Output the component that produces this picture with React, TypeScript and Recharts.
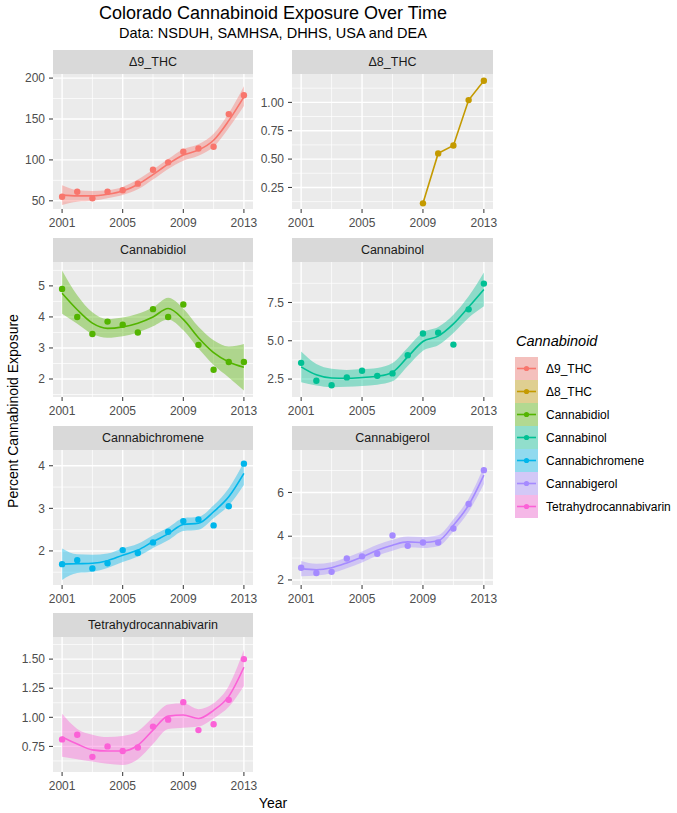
import React from "react";
import { ComposedChart, Line, Area, XAxis, YAxis, CartesianGrid } from "recharts";

const years = [2001, 2002, 2003, 2004, 2005, 2006, 2007, 2008, 2009, 2010, 2011, 2012, 2013];
const xTicks = [2001, 2005, 2009, 2013];
const xMinor = [2003, 2007, 2011];

// points, loess fit and band edges
const thc9Pts = [55, 61, 53, 61, 63, 71, 88, 97, 110, 114, 116, 156, 179];
const thc9Fit = [57, 56, 56, 58, 62, 70, 82, 95, 106, 112, 124, 148, 177];
const thc9Lo = [45, 49, 50, 53, 57, 64, 76, 89, 99, 105, 116, 139, 166];
const thc9Hi = [69, 63, 62, 63, 67, 76, 88, 101, 113, 119, 132, 157, 190];

const thc8Pts = [null, null, null, null, null, null, null, null, 0.11, 0.55, 0.62, 1.02, 1.19];

const cbdPts = [4.9, 4.0, 3.45, 3.85, 3.75, 3.5, 4.25, 4.0, 4.4, 3.1, 2.3, 2.55, 2.55];
const cbdFit = [4.76, 4.23, 3.8, 3.63, 3.68, 3.8, 4.0, 4.27, 3.92, 3.33, 2.85, 2.55, 2.38];
const cbdLo = [4.1, 3.78, 3.45, 3.33, 3.38, 3.5, 3.7, 3.92, 3.57, 2.98, 2.45, 2.05, 1.63];
const cbdHi = [5.5, 4.7, 4.15, 3.93, 3.98, 4.1, 4.3, 4.62, 4.27, 3.68, 3.25, 3.05, 3.13];

const cbnPts = [3.56, 2.39, 2.1, 2.61, 3.04, 2.71, 2.87, 4.06, 5.47, 5.53, 4.75, 7.05, 8.73];
const cbnFit = [3.3, 2.78, 2.57, 2.55, 2.6, 2.68, 2.95, 3.95, 4.95, 5.3, 6.1, 7.2, 8.35];
const cbnLo = [2.3, 2.08, 1.97, 2.0, 2.05, 2.13, 2.35, 3.35, 4.35, 4.7, 5.5, 6.5, 7.25];
const cbnHi = [4.3, 3.48, 3.17, 3.1, 3.15, 3.23, 3.55, 4.55, 5.55, 5.9, 6.7, 7.9, 9.45];

const cbcPts = [1.69, 1.78, 1.59, 1.71, 2.02, 1.95, 2.2, 2.45, 2.7, 2.74, 2.6, 3.05, 4.05];
const cbcFit = [1.69, 1.7, 1.71, 1.77, 1.9, 2.02, 2.22, 2.4, 2.62, 2.65, 2.92, 3.27, 3.82];
const cbcLo = [1.32, 1.48, 1.51, 1.6, 1.74, 1.87, 2.07, 2.25, 2.47, 2.5, 2.77, 3.07, 3.55];
const cbcHi = [2.06, 1.92, 1.91, 1.94, 2.06, 2.17, 2.37, 2.55, 2.77, 2.8, 3.07, 3.47, 4.09];

const cbgPts = [2.56, 2.32, 2.37, 2.98, 3.08, 3.2, 4.03, 3.56, 3.71, 3.71, 4.35, 5.47, 7.02];
const cbgFit = [2.52, 2.47, 2.56, 2.78, 3.05, 3.36, 3.59, 3.74, 3.71, 3.79, 4.5, 5.42, 6.79];
const cbgLo = [2.17, 2.2, 2.31, 2.53, 2.8, 3.11, 3.34, 3.49, 3.46, 3.54, 4.23, 5.12, 6.39];
const cbgHi = [2.87, 2.74, 2.81, 3.03, 3.3, 3.61, 3.84, 3.99, 3.96, 4.04, 4.77, 5.72, 7.19];

const thcvPts = [0.81, 0.85, 0.66, 0.75, 0.71, 0.74, 0.92, 0.98, 1.13, 0.89, 0.94, 1.15, 1.5];
const thcvFit = [0.83, 0.77, 0.72, 0.71, 0.71, 0.76, 0.89, 1.01, 1.02, 0.99, 1.06, 1.18, 1.43];
const thcvLo = [0.66, 0.64, 0.62, 0.6, 0.59, 0.64, 0.77, 0.9, 0.91, 0.92, 0.99, 1.09, 1.27];
const thcvHi = [1.03, 0.9, 0.85, 0.83, 0.84, 0.88, 1.0, 1.11, 1.12, 1.07, 1.12, 1.27, 1.58];

const f2 = (v: number) => v.toFixed(2);
const f1 = (v: number) => v.toFixed(1);
const f0 = (v: number) => String(v);

const panels = [
  { name: "Δ9_THC", color: "#F8766D", pts: thc9Pts, fit: thc9Fit, lo: thc9Lo, hi: thc9Hi, domain: [40, 205], ticks: [50, 100, 150, 200], fmt: f0, row: 0, col: 0 },
  { name: "Δ8_THC", color: "#C49A00", pts: thc8Pts, fit: null, lo: null, hi: null, domain: [0.06, 1.25], ticks: [0.25, 0.5, 0.75, 1.0], fmt: f2, row: 0, col: 1 },
  { name: "Cannabidiol", color: "#53B400", pts: cbdPts, fit: cbdFit, lo: cbdLo, hi: cbdHi, domain: [1.42, 5.77], ticks: [2, 3, 4, 5], fmt: f0, row: 1, col: 0 },
  { name: "Cannabinol", color: "#00C094", pts: cbnPts, fit: cbnFit, lo: cbnLo, hi: cbnHi, domain: [1.33, 10.14], ticks: [2.5, 5, 7.5], fmt: f1, row: 1, col: 1 },
  { name: "Cannabichromene", color: "#00B6EB", pts: cbcPts, fit: cbcFit, lo: cbcLo, hi: cbcHi, domain: [1.2, 4.37], ticks: [2, 3, 4], fmt: f0, row: 2, col: 0 },
  { name: "Cannabigerol", color: "#A58AFF", pts: cbgPts, fit: cbgFit, lo: cbgLo, hi: cbgHi, domain: [1.77, 7.94], ticks: [2, 4, 6], fmt: f0, row: 2, col: 1 },
  { name: "Tetrahydrocannabivarin", color: "#FB61D7", pts: thcvPts, fit: thcvFit, lo: thcvLo, hi: thcvHi, domain: [0.53, 1.69], ticks: [0.75, 1.0, 1.25, 1.5], fmt: f2, row: 3, col: 0 },
];

const PANEL_TOPS = [74, 262, 450, 637];
const PANEL_H = 135;
const STRIP_H = 24;
const PAD = 10; // room around the plot so edge tick labels are not clipped
const FONT = "'Liberation Sans', Arial, sans-serif";

// minor gridlines halfway between major ticks
const minorOf = (ticks: number[], domain: number[]) => {
  const step = ticks[1] - ticks[0];
  const out: number[] = [];
  for (let v = ticks[0] - step / 2; v <= domain[1]; v += step) {
    if (v >= domain[0]) out.push(v);
  }
  return out;
};

function Facet({ p }: { p: any }) {
  const rows = years.map((year, i) => ({
    year,
    pt: p.pts[i],
    fit: p.fit ? p.fit[i] : null,
    band: p.lo ? [p.lo[i], p.hi[i]] : null,
  }));
  const left = p.col === 0 ? 0 : 247;
  const axisW = p.col === 0 ? 53 : 45;
  const width = p.col === 0 ? 253 : 246;
  const top = PANEL_TOPS[p.row];

  return (
    <>
      <div
        style={{
          position: "absolute",
          left: left + axisW,
          top: top - STRIP_H,
          width: width - axisW,
          height: STRIP_H,
          background: "#D9D9D9",
          color: "#1A1A1A",
          fontSize: 12.5,
          lineHeight: `${STRIP_H}px`,
          textAlign: "center",
        }}
      >
        {p.name}
      </div>
      <div style={{ position: "absolute", left, top: top - PAD }}>
        <ComposedChart
          width={width + 2 * PAD}
          height={PANEL_H + 30 + PAD}
          data={rows}
          margin={{ top: PAD, right: 2 * PAD, bottom: 0, left: 0 }}
        >
          <CartesianGrid
            fill="#EBEBEB"
            stroke="#FFFFFF"
            strokeWidth={0.7}
            verticalValues={xMinor}
            horizontalValues={minorOf(p.ticks, p.domain)}
          />
          <CartesianGrid stroke="#FFFFFF" strokeWidth={1.4} verticalValues={xTicks} horizontalValues={p.ticks} />
          <XAxis
            dataKey="year"
            type="number"
            domain={[2000.4, 2013.6]}
            ticks={xTicks}
            interval={0}
            allowDataOverflow
            axisLine={false}
            tickLine={{ stroke: "#333333" }}
            tickSize={4}
            tickMargin={5}
            height={30}
            tick={{ fill: "#4D4D4D", fontSize: 12 }}
          />
          <YAxis
            type="number"
            domain={p.domain}
            ticks={p.ticks}
            interval={0}
            allowDataOverflow
            axisLine={false}
            tickLine={{ stroke: "#333333" }}
            tickSize={4}
            tickMargin={4}
            width={axisW}
            tickFormatter={p.fmt}
            tick={{ fill: "#4D4D4D", fontSize: 12 }}
          />
          {p.lo && (
            <Area
              dataKey="band"
              type="monotone"
              fill={p.color}
              fillOpacity={0.4}
              stroke="none"
              activeDot={false}
              isAnimationActive={false}
            />
          )}
          {p.fit && (
            <Line
              dataKey="fit"
              type="monotone"
              stroke={p.color}
              strokeWidth={1.6}
              dot={false}
              activeDot={false}
              isAnimationActive={false}
            />
          )}
          <Line
            dataKey="pt"
            type="linear"
            stroke={p.fit ? "none" : p.color}
            strokeWidth={1.6}
            dot={{ r: 3.2, fill: p.color, stroke: "none" }}
            activeDot={false}
            isAnimationActive={false}
          />
        </ComposedChart>
      </div>
    </>
  );
}

export default function App() {
  return (
    <div style={{ position: "relative", width: 677, height: 813, background: "#FFFFFF", fontFamily: FONT, overflow: "hidden" }}>
      <style>{"body{margin:0}"}</style>
      <div style={{ position: "absolute", left: 53, width: 440, top: 3, textAlign: "center", fontSize: 18, color: "#000" }}>
        Colorado Cannabinoid Exposure Over Time
      </div>
      <div style={{ position: "absolute", left: 53, width: 440, top: 25, textAlign: "center", fontSize: 14.5, color: "#000" }}>
        Data: NSDUH, SAMHSA, DHHS, USA and DEA
      </div>

      {panels.map((p) => (
        <Facet key={p.name} p={p} />
      ))}

      <div
        style={{
          position: "absolute",
          left: 13,
          top: 411,
          transform: "translate(-50%, -50%) rotate(-90deg)",
          whiteSpace: "nowrap",
          fontSize: 14,
          color: "#000",
        }}
      >
        Percent Cannabinoid Exposure
      </div>
      <div style={{ position: "absolute", left: 53, width: 440, top: 795, textAlign: "center", fontSize: 14, color: "#000" }}>
        Year
      </div>

      <div style={{ position: "absolute", left: 516, top: 333, fontSize: 14.5, fontStyle: "italic", color: "#000" }}>
        Cannabinoid
      </div>
      {panels.map((p, i) => (
        <div key={p.name} style={{ position: "absolute", left: 515, top: 357 + i * 23, height: 23, display: "flex", alignItems: "center" }}>
          <div style={{ width: 23, height: 23, background: "#F2F2F2", position: "relative" }}>
            <div style={{ position: "absolute", inset: 0, background: p.color, opacity: 0.4 }} />
            <svg width={23} height={23} style={{ position: "absolute", left: 0, top: 0 }}>
              <line x1={2} x2={21} y1={11.5} y2={11.5} stroke={p.color} strokeWidth={1.6} />
              <circle cx={11.5} cy={11.5} r={2.6} fill={p.color} />
            </svg>
          </div>
          <span style={{ marginLeft: 8, fontSize: 12, color: "#000", whiteSpace: "nowrap" }}>{p.name}</span>
        </div>
      ))}
    </div>
  );
}
